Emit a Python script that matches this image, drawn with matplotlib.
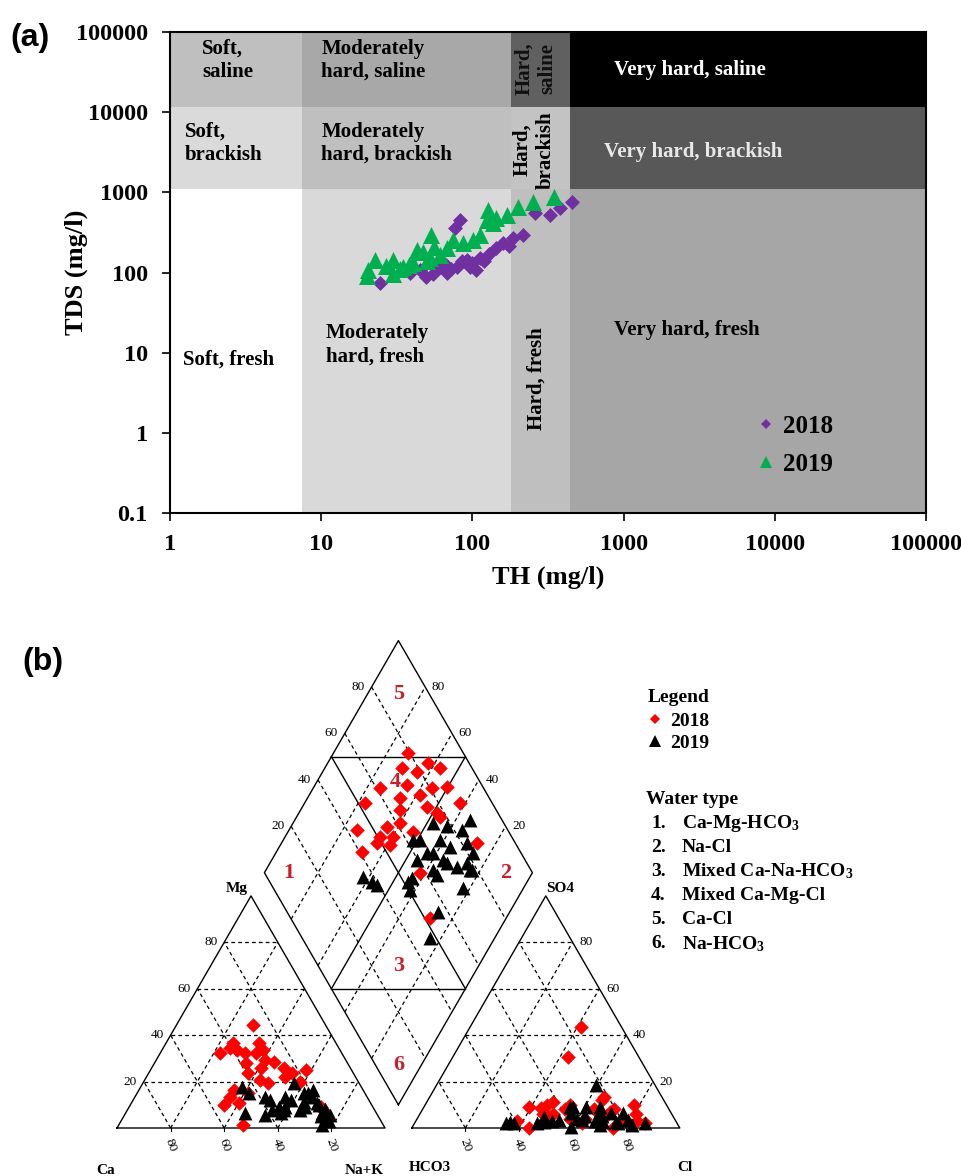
import numpy as np
import matplotlib.pyplot as plt
from matplotlib.lines import Line2D

plt.rcParams['font.family'] = ['Liberation Serif', 'DejaVu Serif']
plt.rcParams['font.weight'] = 'bold'
plt.rcParams['axes.labelweight'] = 'bold'
plt.rcParams['mathtext.fontset'] = 'custom'
plt.rcParams['mathtext.rm'] = 'Liberation Serif:bold'
plt.rcParams['mathtext.it'] = 'Liberation Serif:bold:italic'
plt.rcParams['mathtext.bf'] = 'Liberation Serif:bold'

W, H = 962, 1176

# ---- (a) TH vs TDS ----
th_2018 = [24.5, 38.6, 45, 49.7, 55, 61, 67.5, 67, 72, 78.6, 76.5, 83, 85, 91.7, 96,
           100, 106, 112, 120, 128, 144, 160, 175, 186, 217, 259, 326, 380, 454]
tds_2018 = [74, 99, 108, 89, 95, 118, 99, 124, 112, 118, 360, 453, 140, 144, 118,
            130, 108, 152, 140, 170, 203, 234, 215, 270, 295, 553, 523, 640, 767]
th_2019 = [20, 20.5, 22.7, 27, 30, 30, 33, 34.9, 38, 40.6, 43, 47.3, 50, 52.5, 53.5,
           55.5, 61, 68, 74.8, 87, 101, 112, 124, 127, 137, 144, 169, 201, 252, 344]
tds_2019 = [90, 107, 144, 120, 144, 95, 110, 118, 125, 131, 191, 182, 140, 152, 295,
            209, 166, 200, 255, 234, 255, 295, 453, 605, 416, 480, 523, 665, 767, 886]

th_edges = [1, 7.5, 180, 440, 1e5]
tds_edges = [0.1, 1100, 11500, 1e5]
zone_colors = [['#ffffff', '#d9d9d9', '#bfbfbf', '#a6a6a6'],   # fresh
               ['#dadada', '#bfbfbf', '#c3c3c3', '#585858'],   # brackish
               ['#bfbfbf', '#a8a8a8', '#606060', '#000000']]   # saline

# ---- (b) Piper: cation / anion percentages ----
na_2018 = [28, 28.7, 35, 37.6, 43, 24.9, 34.2, 34.6, 41.4, 44.2, 49.5, 22.5, 37.1, 46.4, 51.5,
           58, 25.2, 35.7, 40, 35.4, 40.4, 35.6, 31.8, 46.8, 53.4, 72.9, 41, 71.6, 58.3]
mg_2018 = [33.6, 44.4, 9.9, 33.6, 20.7, 34.3, 27.9, 36.5, 14.9, 28.6, 25.8, 32.2, 23.6, 1.3, 22.1,
           25, 36.5, 32.2, 10.7, 13.5, 29.3, 16.4, 32.2, 19.3, 23.6, 7.8, 25.8, 9.2, 20]
cl_2018 = [71.4, 43, 65.1, 41.4, 78, 53.3, 64, 62.6, 74.9, 76.6, 80.6, 44, 54.1, 69.9, 65.1,
           86, 43.6, 45.5, 57.2, 47.8, 49.8, 39.2, 37.8, 62.4, 70.6, 82.5, 47.8, 46, 47]
so4_2018 = [8, 30.7, 13.5, 43.4, 10, 8, 8, 4, 0, 4, 6, 8.5, 10, 5, 12,
            2, 0, 10, 4, 3, 6, 9, 3, 2, 7, 3, 5, 6, 11]

na_2019 = [65.4, 64.4, 52.4, 58, 51, 58.5, 63.7, 69.2, 73.8, 56.4, 64, 70.4, 54, 62.4, 76.1,
           56.1, 37.8, 44.6, 48.6, 58.8, 66, 73.5, 55.7, 58.1, 64.8, 77.6, 73.3, 75.9, 76.7, 41.9]
mg_2019 = [9.2, 7.8, 5.7, 6.3, 12.1, 7.8, 14.9, 10.7, 5, 19.3, 11.4, 10, 7.8, 14.9, 3.4,
           13.5, 17.8, 6.3, 13.5, 12.1, 13.5, 8, 9.2, 9.2, 16.4, 3, 6.3, 1.3, 5.7, 15]
cl_2019 = [86, 81.5, 68.6, 59.5, 61.8, 69.9, 65.7, 75.5, 78.8, 55.6, 60.4, 66.7, 59, 54.6, 71,
           50.7, 34, 37.3, 56.3, 62.2, 67, 74.9, 46.9, 47.9, 59.8, 69.5, 53.1, 45.7, 75.9, 35.4]
so4_2019 = [2, 1.3, 5, 18.5, 3.4, 2.7, 9.2, 6.3, 3.4, 9.2, 9.2, 6.3, 0.6, 9, 6.3,
            3, 2, 2, 6.3, 5, 3, 2.7, 4.9, 2.7, 4, 1.3, 3.4, 2, 2, 2.7]

water_types = ['Ca-Mg-HCO$_3$', 'Na-Cl', 'Mixed Ca-Na-HCO$_3$',
               'Mixed Ca-Mg-Cl', 'Ca-Cl', 'Na-HCO$_3$']

fig = plt.figure(figsize=(W / 100, H / 100), dpi=100)


def fx(px):
    return px / W


def fy(py):
    return 1 - py / H


ax = fig.add_axes([fx(170), fy(513), 756 / W, 481 / H])
ax.set_xscale('log')
ax.set_yscale('log')
ax.set_xlim(1, 1e5)
ax.set_ylim(0.1, 1e5)

for i in range(3):
    for j in range(4):
        ax.fill_between([th_edges[j], th_edges[j + 1]], tds_edges[i], tds_edges[i + 1],
                        color=zone_colors[i][j], lw=0, zorder=0)

ax.scatter(th_2018, tds_2018, marker='D', s=58, color='#7030a0', lw=0, zorder=3)
ax.scatter(th_2019, tds_2019, marker='^', s=150, color='#00b050', lw=0, zorder=4)

zone_fs = 15
ax.text(1.63, 44000, 'Soft,\nsaline', fontsize=zone_fs, va='center', linespacing=1.2)
ax.text(10, 44000, 'Moderately\nhard, saline', fontsize=zone_fs, va='center', linespacing=1.2)
ax.text(262, 35000, 'Hard,\nsaline', fontsize=zone_fs, va='center', ha='center',
        rotation=90, linespacing=1.2, color='#111111')
ax.text(860, 33600, 'Very hard, saline', fontsize=zone_fs, va='center', color='white')
ax.text(1.26, 4120, 'Soft,\nbrackish', fontsize=zone_fs, va='center', linespacing=1.2)
ax.text(10, 4120, 'Moderately\nhard, brackish', fontsize=zone_fs, va='center', linespacing=1.2)
ax.text(255, 3370, 'Hard,\nbrackish', fontsize=zone_fs, va='center', ha='center',
        rotation=90, linespacing=1.2)
ax.text(740, 3185, 'Very hard, brackish', fontsize=zone_fs, va='center', color='#e8e8e8')
ax.text(1.22, 8.1, 'Soft, fresh', fontsize=zone_fs, va='center')
ax.text(10.7, 12.5, 'Moderately\nhard, fresh', fontsize=zone_fs, va='center', linespacing=1.2)
ax.text(267, 4.8, 'Hard, fresh', fontsize=zone_fs, va='center', ha='center', rotation=90)
ax.text(860, 19.2, 'Very hard, fresh', fontsize=zone_fs, va='center')

ax.minorticks_off()
ax.set_xticks([1, 10, 100, 1000, 10000, 100000])
ax.set_xticklabels(['1', '10', '100', '1000', '10000', '100000'])
ax.set_yticks([0.1, 1, 10, 100, 1000, 10000, 100000])
ax.set_yticklabels(['0.1', '1', '10', '100', '1000', '10000', '100000'])
ax.tick_params(direction='out', length=6, width=1.2, labelsize=17.5)
ax.tick_params(axis='y', pad=10)
ax.tick_params(axis='x', pad=9)
for sp in ax.spines.values():
    sp.set_linewidth(1.5)
ax.set_xlabel('TH (mg/l)', fontsize=19, labelpad=8)
ax.set_ylabel('TDS (mg/l)', fontsize=19)
ax.yaxis.set_label_coords(-0.108, 0.5)

leg_a = ax.legend(handles=[Line2D([], [], ls='', marker='D', ms=5.5, color='#7030a0', mew=0),
                           Line2D([], [], ls='', marker='^', ms=9, color='#00b050', mew=0)],
                  labels=['2018', '2019'], loc='center left', bbox_to_anchor=(0.775, 0.141),
                  frameon=False, fontsize=18, handlelength=0.8, handletextpad=0.3,
                  labelspacing=0.6, borderpad=0, borderaxespad=0)

fig.text(fx(10), fy(38), '(a)', fontsize=23, family='Liberation Sans', weight='bold', va='center')
fig.text(fx(22), fy(662), '(b)', fontsize=23, family='Liberation Sans', weight='bold', va='center')

# ---- (b) Piper diagram ----
bx = fig.add_axes([0, 0, 1, 576 / H])
side = 268.0
bx.set_xlim(-117 / side, (W - 117) / side)
bx.set_ylim((1128 - H) / side, (1128 - 600) / side)
bx.axis('off')
h = np.sqrt(3) / 2


def cation_xy(na, mg):
    na = np.asarray(na) / 100
    mg = np.asarray(mg) / 100
    return na + 0.5 * mg, h * mg


def anion_xy(cl, so4):
    cl = np.asarray(cl) / 100
    so4 = np.asarray(so4) / 100
    return 1.1 + cl + 0.5 * so4, h * so4


def diamond_xy(na, cl, so4):
    n = np.asarray(na) / 100
    s = (np.asarray(cl) + np.asarray(so4)) / 100
    return 0.55 + 0.5 * (n + s), h * (1.1 + s - n)


solid = dict(color='k', lw=1.0, zorder=2)
dash = dict(color='k', lw=0.9, ls=(0, (3, 2.5)), zorder=1)
fr = [0.2, 0.4, 0.6, 0.8]

for off in [0, 1.1]:
    bx.plot([off, off + 1, off + 0.5, off], [0, 0, h, 0], **solid)
    for f in fr:
        bx.plot([off + 0.5 * f, off + 1 - 0.5 * f], [h * f, h * f], **dash)
        bx.plot([off + f, off + f + 0.5 * (1 - f)], [0, h * (1 - f)], **dash)
        bx.plot([off + f, off + 0.5 * f], [0, h * f], **dash)

# diamond outline and class boundaries
bx.plot([1.05, 1.55, 1.05, 0.55, 1.05], [0.1 * h, 1.1 * h, 2.1 * h, 1.1 * h, 0.1 * h], **solid)
bx.plot([0.8, 1.3], [1.6 * h, 1.6 * h], **solid)
bx.plot([0.8, 1.3], [0.6 * h, 0.6 * h], **solid)
bx.plot([0.8, 1.3], [1.6 * h, 0.6 * h], **solid)
bx.plot([1.3, 0.8], [1.6 * h, 0.6 * h], **solid)
for f in fr:
    x0, y0 = 1.05 - 0.5 * f, 0.1 * h + f * h
    bx.plot([x0, x0 + 0.5], [y0, y0 + h], **dash)
    x1, y1 = 0.55 + 0.5 * f, 1.1 * h + f * h
    bx.plot([x1, x1 + 0.5], [y1, y1 - h], **dash)

tk = dict(fontsize=9.5, fontweight='normal', va='center')
for f in fr:
    v = int(round(f * 100))
    bx.text(0.5 * f - 0.025, h * f, str(v), ha='right', **tk)
    bx.text(2.1 - 0.5 * f + 0.025, h * f, str(v), ha='left', **tk)
    bx.text(f, -0.065, str(100 - v), ha='center', rotation=-70, **tk)
    bx.text(1.1 + f, -0.065, str(v), ha='center', rotation=-70, **tk)
    bx.text(0.55 + 0.5 * f - 0.025, 1.1 * h + f * h, str(v), ha='right', **tk)
    bx.text(1.55 - 0.5 * f + 0.025, 1.1 * h + f * h, str(v), ha='left', **tk)
    bx.plot([f, f], [0, -0.012], color='k', lw=0.8)
    bx.plot([1.1 + f, 1.1 + f], [0, -0.012], color='k', lw=0.8)

lab = dict(fontsize=11, ha='center', va='center')
bx.text(0.448, 0.895, 'Mg', **lab)
bx.text(1.653, 0.895, 'SO4', **lab)
bx.text(-0.041, -0.157, 'Ca', **lab)
bx.text(0.922, -0.157, 'Na+K', **lab)
bx.text(1.168, -0.149, 'HCO3', **lab)
bx.text(2.119, -0.149, 'Cl', **lab)

red = '#c8202a'
for txt, (xx, yy) in zip(['1', '2', '3', '4', '5', '6'],
                         [(0.64, 1.1 * h), (1.45, 1.1 * h), (1.05, 0.70 * h),
                          (1.04, 1.49 * h), (1.05, 1.87 * h), (1.05, 0.27 * h)]):
    bx.text(xx, yy, txt, color=red, fontsize=16, ha='center', va='center', zorder=2)

# samples
for na, mg, cl, so4, mk, c, s in [(na_2018, mg_2018, cl_2018, so4_2018, 'D', '#ff0000', 55),
                                  (na_2019, mg_2019, cl_2019, so4_2019, '^', 'k', 100)]:
    for xy in [cation_xy(na, mg), anion_xy(cl, so4), diamond_xy(na, cl, so4)]:
        bx.scatter(xy[0], xy[1], marker=mk, s=s, color=c, lw=0, zorder=3)

bx.legend(handles=[Line2D([], [], ls='', marker='D', ms=5.5, color='#ff0000', mew=0),
                   Line2D([], [], ls='', marker='^', ms=9, color='k', mew=0)],
          labels=['2018', '2019'], loc='upper left', bbox_to_anchor=(fx(647), fy(712)),
          bbox_transform=fig.transFigure, frameon=False, fontsize=14, handlelength=0.8,
          handletextpad=0.4, labelspacing=0.25, borderpad=0, borderaxespad=0)

fig.text(fx(648), fy(697), 'Legend', fontsize=14, va='center')
fig.text(fx(646), fy(800), 'Water type', fontsize=14, va='center')
item_y = [823, 847, 871, 896, 920, 944]
for k, (name, yy) in enumerate(zip(water_types, item_y)):
    fig.text(fx(651), fy(yy), '%d.' % (k + 1), fontsize=14, va='center')
    fig.text(fx(682), fy(yy), name, fontsize=14, va='center')

fig.savefig('out.png', dpi=100)
